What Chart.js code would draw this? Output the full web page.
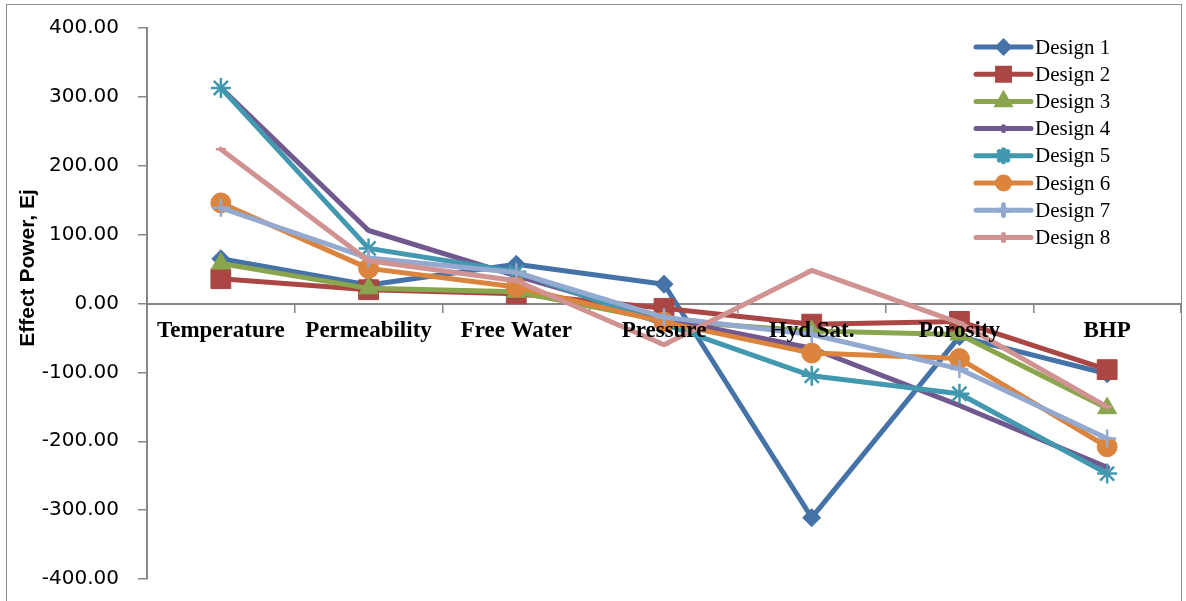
<!DOCTYPE html>
<html>
<head>
<meta charset="utf-8">
<script src="https://cdn.jsdelivr.net/npm/chart.js@4/dist/chart.umd.min.js"></script>
<style>
  body { margin: 0; background: #fff; }
  #wrap { position: relative; width: 1186px; height: 601px; }
</style>
</head>
<body>
<div id="wrap"><canvas id="effectChart" width="1186" height="601"></canvas></div>
<script>
// Categories and series
const categories = ['Temperature', 'Permeability', 'Free Water', 'Pressure', 'Hyd Sat.', 'Porosity', 'BHP'];
const design1 = [65, 27, 57, 28, -311, -48, -102];
const design2 = [36, 20, 14, -7, -30, -26, -96];
const design3 = [58, 22, 17, -25, -40, -45, -152];
const design4 = [313, 106, 40, -22, -65, -148, -238];
const design5 = [313, 80, 46, -30, -105, -131, -247];
const design6 = [146, 51, 24, -27, -72, -80, -208];
const design7 = [139, 66, 45, -20, -45, -95, -196];
const design8 = [224, 62, 33, -60, 48, -28, -150];
const seriesNames = ['Design 1', 'Design 2', 'Design 3', 'Design 4', 'Design 5', 'Design 6', 'Design 7', 'Design 8'];
const yTicks = [-400, -300, -200, -100, 0, 100, 200, 300, 400];

const seriesValues = [design1, design2, design3, design4, design5, design6, design7, design8];
const colours = ['#4572A7', '#AA4643', '#89A54E', '#71588F', '#4198AF', '#DB843D', '#93A9CF', '#D19392'];
const markers = ['rectRot', 'rect', 'triangle', 'line', 'star', 'circle', 'cross', 'line'];
const markerSizes = [9, 14, 11, 3, 10, 10, 9, 5];

const datasets = seriesValues.map((vals, i) => ({
    label: seriesNames[i],
    data: vals,
    borderColor: colours[i],
    backgroundColor: colours[i],
    borderWidth: 5,
    borderJoinStyle: 'round',
    borderCapStyle: 'round',
    tension: 0,
    pointStyle: markers[i],
    pointRadius: markerSizes[i],
    pointBorderWidth: (markers[i] === 'star' || markers[i] === 'cross' || markers[i] === 'line') ? 2.5 : 1,
    pointBorderColor: colours[i],
    pointBackgroundColor: colours[i],
    order: 7 - i
}));

// Outer frame, y-axis title and the in-plot legend
const extrasPlugin = {
    id: 'extras',
    afterDraw(chart) {
        const ctx = chart.ctx;
        ctx.save();
        ctx.strokeStyle = '#8c8c8c';
        ctx.lineWidth = 1;
        ctx.strokeRect(6.5, 4.5, 1175, 600);

        ctx.translate(28, 268);
        ctx.rotate(-Math.PI / 2);
        ctx.fillStyle = '#000';
        ctx.font = 'bold 21px "Liberation Sans"';
        ctx.textAlign = 'center';
        ctx.textBaseline = 'middle';
        ctx.fillText('Effect Power, Ej', 0, 0);
        ctx.restore();

        ctx.save();
        chart.data.datasets.forEach((ds, i) => {
            const y = 47 + i * 27.2;
            ctx.strokeStyle = ds.borderColor;
            ctx.lineWidth = 5;
            ctx.lineCap = 'round';
            ctx.beginPath();
            ctx.moveTo(976, y);
            ctx.lineTo(1031, y);
            ctx.stroke();
            ctx.fillStyle = ds.borderColor;
            Chart.helpers.drawPoint(ctx, {
                pointStyle: ds.pointStyle,
                radius: ds.pointRadius * 0.6,
                rotation: ds.pointStyle === 'line' ? 90 : 0,
                borderWidth: ds.pointBorderWidth
            }, 1003.5, y);
            ctx.fillStyle = '#000';
            ctx.font = '21px "Liberation Serif"';
            ctx.textAlign = 'left';
            ctx.textBaseline = 'middle';
            ctx.fillText(ds.label, 1035, y + 1);
        });
        ctx.restore();
    }
};

new Chart(document.getElementById('effectChart').getContext('2d'), {
    type: 'line',
    data: { labels: categories, datasets: datasets },
    options: {
        responsive: false,
        animation: false,
        layout: { autoPadding: false, padding: { left: 0, right: 5, top: 28, bottom: 22 } },
        scales: {
            x: {
                type: 'category',
                offset: true,
                position: { y: 0 },
                // the axis sits on the zero line, so it should not take room at the bottom
                afterFit: (s) => {
                    s.height = 0;
                    s.paddingLeft = 0;
                    s.paddingRight = 0;
                    s.paddingTop = 0;
                    s.paddingBottom = 0;
                },
                grid: { drawOnChartArea: false, tickLength: 8, color: '#868686', lineWidth: 1.5, offset: true },
                border: { color: '#868686', width: 2 },
                ticks: {
                    z: 1,
                    color: '#000',
                    font: { family: '"Liberation Serif"', size: 23, weight: 'bold' },
                    padding: 6,
                    maxRotation: 0,
                    autoSkip: false
                }
            },
            y: {
                min: yTicks[0],
                max: yTicks[yTicks.length - 1],
                afterBuildTicks: (s) => { s.ticks = yTicks.map(v => ({ value: v })); },
                afterFit: (s) => { s.width = 147; s.paddingTop = 0; s.paddingBottom = 0; },
                grid: { drawOnChartArea: false, tickLength: 9, color: '#868686', lineWidth: 1.5 },
                border: { color: '#868686', width: 2 },
                ticks: {
                    color: '#000',
                    font: { family: '"DejaVu Sans"', size: 20 },
                    padding: 19,
                    callback: (v) => Number(v).toFixed(2)
                },
                title: { display: false }
            }
        },
        plugins: {
            legend: { display: false },
            tooltip: { enabled: false }
        }
    },
    plugins: [extrasPlugin]
});
</script>
</body>
</html>
